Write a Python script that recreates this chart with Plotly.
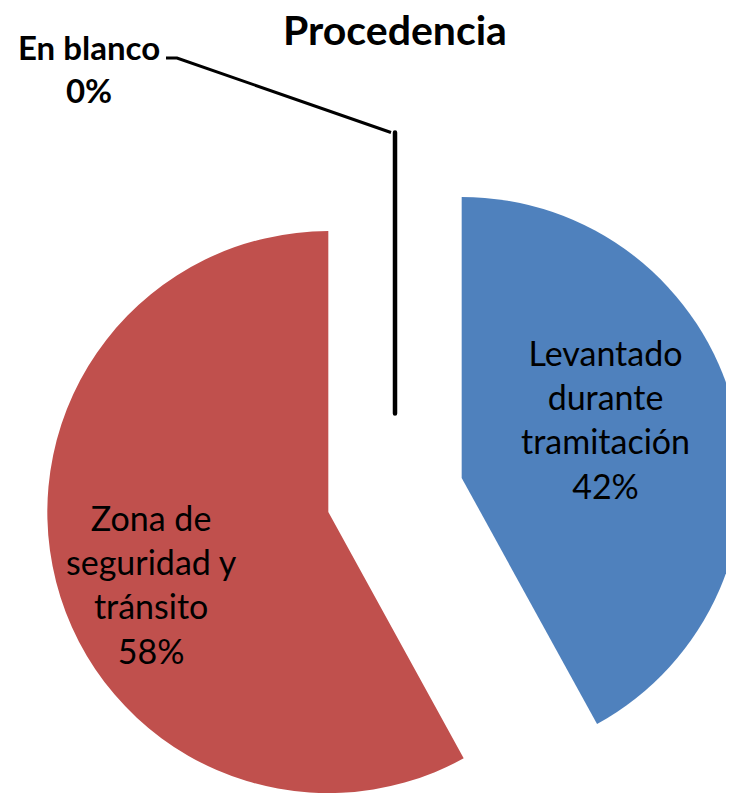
import plotly.graph_objects as go

# slices in the order they are drawn (clockwise from 12 o'clock)
labels = ["Levantado durante tramitación", "Zona de seguridad y tránsito", "En blanco"]
label_lines = ["Levantado<br>durante<br>tramitación", "Zona de<br>seguridad y<br>tránsito", "En blanco"]
values = [42, 58, 0]
colors = ["#4F81BD", "#C0504D", "#000000"]
pulls = [0.245, 0.245, 0.29]

TITLE = "Procedencia"
FONT = "Lato"

# canvas is a bit larger than the window so the pulled slices run off the edges
W, H = 800, 1000
OFF = 8  # page body margin
CX, CY, R = 395, 495, 281
half = R * (1 + max(pulls))


def px_x(x):
    return (x - OFF) / W


def px_y(y):
    return 1 - (y - OFF) / H


total = sum(values)
pct = [f"{v / total:.0%}" for v in values]

fig = go.Figure(
    go.Pie(
        labels=labels,
        values=values,
        textinfo="none",
        marker=dict(colors=colors, line=dict(color="#000000", width=[0, 0, 4.5])),
        pull=pulls,
        sort=False,
        direction="clockwise",
        rotation=0,
        showlegend=False,
        hoverinfo="label+percent",
        domain=dict(
            x=[px_x(CX - half), px_x(CX + half)],
            y=[px_y(CY + half), px_y(CY - half)],
        ),
    )
)

# labels inside the two real slices
for text, p, (lx, ly) in zip(label_lines[:2], pct[:2], [(605, 419), (151, 584)]):
    fig.add_annotation(
        x=px_x(lx),
        y=px_y(ly),
        xref="paper",
        yref="paper",
        xanchor="center",
        yanchor="middle",
        text=f"{text}<br>{p}",
        showarrow=False,
        align="center",
        font=dict(family=FONT, size=34, color="#000000"),
    )

# outside label for the empty slice, with an elbow leader line to its tip
tip_y = CY - R * (1 + pulls[2])
fig.add_shape(
    type="path",
    xref="paper",
    yref="paper",
    path=f"M {px_x(166)},{px_y(58)} L {px_x(177)},{px_y(58)} L {px_x(CX - 4)},{px_y(tip_y)}",
    line=dict(color="#000000", width=3),
)
fig.add_annotation(
    x=px_x(89),
    y=px_y(69),
    xref="paper",
    yref="paper",
    xanchor="center",
    yanchor="middle",
    text=f"{labels[2]}<br>{pct[2]}",
    showarrow=False,
    align="center",
    font=dict(family=FONT, size=33, color="#000000", weight="bold"),
)

fig.update_layout(
    width=W,
    height=H,
    margin=dict(l=0, r=0, t=0, b=0),
    paper_bgcolor="#ffffff",
    title=dict(
        text=TITLE,
        x=px_x(395),
        y=px_y(31),
        xanchor="center",
        yanchor="middle",
        font=dict(family=FONT, size=41, color="#000000", weight="bold"),
    ),
)

fig.write_html("out.html")
